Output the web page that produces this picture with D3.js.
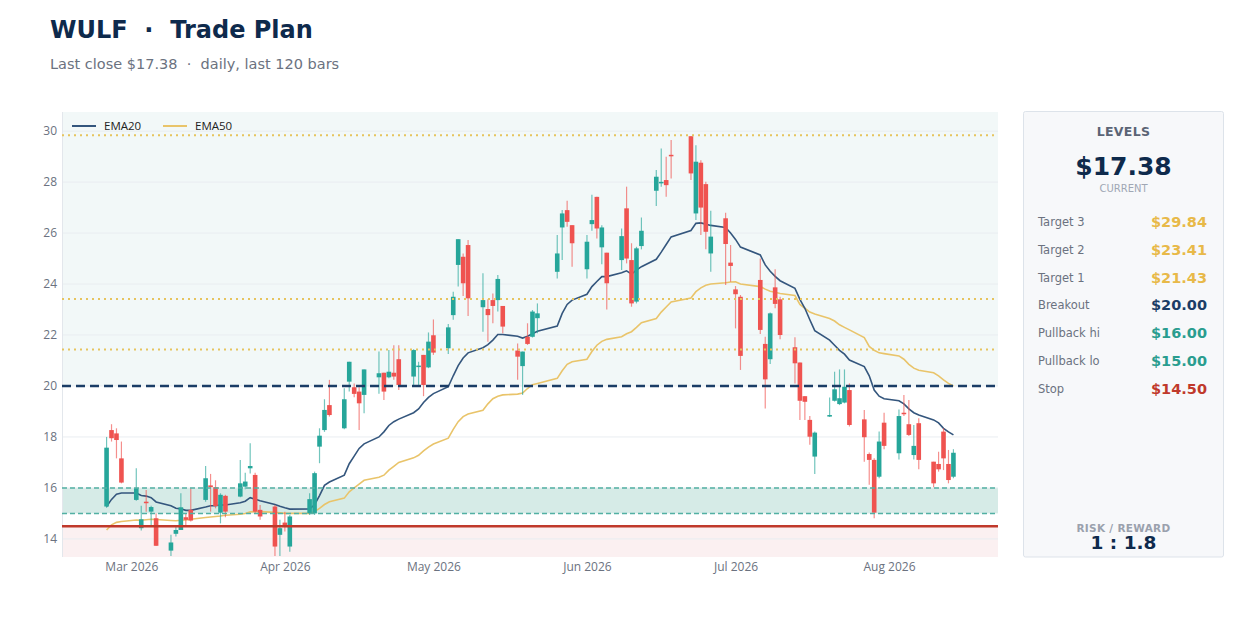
<!DOCTYPE html>
<html><head><meta charset="utf-8">
<script src="https://cdn.jsdelivr.net/npm/d3@7"></script>
<style>body{margin:0;background:#fff;}svg{display:block;}</style>
</head><body>
<svg id="c" width="1248" height="619"></svg>
<script>
// ---- data ----
const dates = [
"2026-02-24","2026-02-25","2026-02-26","2026-02-27",
"2026-03-02","2026-03-03","2026-03-04","2026-03-05","2026-03-06",
"2026-03-09","2026-03-10","2026-03-11","2026-03-12","2026-03-13",
"2026-03-16","2026-03-17","2026-03-18","2026-03-19","2026-03-20",
"2026-03-23","2026-03-24","2026-03-25","2026-03-26","2026-03-27",
"2026-03-30","2026-03-31","2026-04-01","2026-04-02",
"2026-04-06","2026-04-07","2026-04-08","2026-04-09","2026-04-10",
"2026-04-13","2026-04-14","2026-04-15","2026-04-16","2026-04-17",
"2026-04-20","2026-04-21","2026-04-22","2026-04-23","2026-04-24",
"2026-04-27","2026-04-28","2026-04-29","2026-04-30","2026-05-01",
"2026-05-04","2026-05-05","2026-05-06","2026-05-07","2026-05-08",
"2026-05-11","2026-05-12","2026-05-13","2026-05-14","2026-05-15",
"2026-05-18","2026-05-19","2026-05-20","2026-05-21","2026-05-22",
"2026-05-26","2026-05-27","2026-05-28","2026-05-29",
"2026-06-01","2026-06-02","2026-06-03","2026-06-04","2026-06-05",
"2026-06-08","2026-06-09","2026-06-10","2026-06-11","2026-06-12",
"2026-06-15","2026-06-16","2026-06-17","2026-06-18",
"2026-06-22","2026-06-23","2026-06-24","2026-06-25","2026-06-26",
"2026-06-29","2026-06-30","2026-07-01","2026-07-02",
"2026-07-06","2026-07-07","2026-07-08","2026-07-09","2026-07-10",
"2026-07-13","2026-07-14","2026-07-15","2026-07-16","2026-07-17",
"2026-07-20","2026-07-21","2026-07-22","2026-07-23","2026-07-24",
"2026-07-27","2026-07-28","2026-07-29","2026-07-30","2026-07-31",
"2026-08-03","2026-08-04","2026-08-05","2026-08-06","2026-08-07",
"2026-08-10","2026-08-11","2026-08-12","2026-08-13","2026-08-14"];

const opens = [
15.27,18.27,18.14,17.16,
15.53,14.42,15.46,15.07,14.81,
13.54,14.20,14.35,14.85,15.14,
15.53,16.10,16.03,15.03,15.69,
15.66,16.05,16.77,16.51,15.14,
15.27,14.16,14.64,13.70,
15.00,15.00,17.62,18.27,19.25,
18.34,20.17,19.95,19.78,19.65,
20.34,20.52,20.34,20.52,21.05,
20.37,20.76,21.22,20.73,21.99,
21.48,22.78,24.75,25.07,25.53,
23.09,23.02,23.37,23.37,23.14,
21.39,20.78,21.93,21.93,22.66,
24.48,26.22,26.90,26.31,
24.58,26.35,27.42,25.44,25.23,
24.94,26.97,24.94,23.31,25.49,
27.66,27.95,28.08,29.07,
29.80,26.77,28.76,27.92,25.20,
26.58,24.84,23.79,23.50,
24.16,21.65,21.05,23.87,23.40,
21.52,20.92,19.60,18.67,17.23,
18.80,19.42,19.29,19.35,19.84,
18.69,17.33,17.10,16.44,18.56,
17.36,18.95,18.50,17.29,18.54,
17.03,16.94,18.21,16.94,16.44];

const highs = [
18.00,18.50,18.34,17.82,
16.77,15.30,15.92,15.30,15.00,
14.16,14.55,15.79,15.00,15.99,
16.86,16.55,16.30,15.79,15.73,
17.10,16.60,17.75,16.60,15.33,
15.33,14.75,15.07,14.94,
15.79,16.64,18.34,19.48,20.24,
19.91,20.95,20.10,19.95,20.65,
21.35,20.52,21.41,21.60,21.60,
21.44,20.95,21.22,22.10,22.61,
22.43,23.70,25.76,25.20,25.73,
24.42,23.40,23.63,24.35,23.14,
21.67,21.35,22.46,22.98,23.24,
25.92,26.90,27.27,26.31,
25.92,27.50,27.42,26.31,25.23,
26.18,27.82,25.60,25.46,26.61,
28.47,29.32,28.99,29.65,
29.80,29.45,28.86,28.01,26.88,
26.80,25.53,23.92,23.57,
25.00,21.93,22.88,24.58,23.50,
21.91,20.92,19.60,18.82,18.21,
19.55,20.56,20.65,20.65,20.10,
19.06,17.39,17.16,18.21,18.95,
19.08,19.65,19.45,18.47,18.73,
17.03,17.42,18.34,17.49,17.52];

const lows = [
15.22,17.82,17.16,16.18,
15.50,14.33,15.07,14.50,13.72,
13.33,14.09,14.35,14.48,14.68,
15.46,15.07,15.20,14.61,14.85,
15.63,15.95,16.57,15.00,14.75,
13.33,13.33,14.29,13.50,
14.94,14.94,16.97,18.20,18.80,
18.30,19.78,19.56,18.27,18.93,
19.70,19.45,20.30,20.24,19.84,
20.04,20.04,19.60,20.70,21.22,
21.25,22.60,23.90,23.53,22.75,
22.13,21.74,22.46,22.92,22.07,
20.24,19.65,21.61,21.90,22.07,
24.22,24.94,26.25,24.68,
24.22,26.09,25.79,24.78,23.00,
24.55,24.81,23.11,23.24,25.36,
27.06,27.82,27.42,28.14,
28.08,26.51,25.92,25.36,24.48,
23.96,24.09,22.26,20.63,
22.04,19.12,20.86,23.05,21.83,
20.10,18.67,18.67,17.69,16.55,
18.78,19.39,19.25,19.32,18.41,
17.03,16.12,14.81,16.38,17.52,
17.12,18.82,18.04,17.12,16.73,
16.03,16.64,16.70,16.18,16.38];

const closes = [
17.58,17.95,17.88,16.21,
15.99,14.77,15.40,15.25,13.73,
13.86,14.35,15.24,14.75,14.72,
16.38,16.03,15.29,15.73,15.07,
16.18,16.25,16.86,15.07,14.88,
13.70,14.42,14.48,14.88,
15.56,16.58,18.05,19.06,18.86,
19.48,20.95,19.69,19.32,20.65,
20.50,19.78,20.56,20.37,20.04,
21.41,20.80,20.04,21.74,21.31,
22.30,23.50,25.76,24.03,23.44,
23.37,22.78,23.14,24.20,22.33,
21.15,21.35,21.65,22.92,22.85,
25.20,26.77,26.44,25.60,
25.66,26.51,26.18,26.22,24.03,
25.88,25.00,23.24,25.40,26.09,
28.21,28.01,27.88,29.02,
28.34,28.80,27.00,26.05,25.86,
25.57,24.71,23.60,21.18,
22.20,20.26,22.85,23.22,22.00,
20.89,19.42,19.38,18.01,18.17,
18.86,19.87,19.52,19.97,18.47,
17.99,17.10,15.03,17.82,17.65,
18.82,18.90,18.08,17.65,17.10,
16.18,16.73,17.16,16.31,17.38];

const ema20 = [
15.27,15.55,15.75,15.80,
15.80,15.70,15.68,15.62,15.45,
15.30,15.20,15.18,15.12,15.12,
15.25,15.30,15.30,15.33,15.33,
15.42,15.48,15.62,15.56,15.50,
15.35,15.28,15.22,15.17,
15.18,15.34,15.70,16.10,16.23,
16.50,16.95,17.25,17.55,17.73,
18.00,18.20,18.45,18.60,18.70,
18.95,19.10,19.35,19.55,19.70,
19.97,20.40,20.80,21.10,21.30,
21.50,21.62,21.80,22.02,22.02,
21.95,21.88,21.95,22.05,22.15,
22.35,22.85,23.20,23.37,
23.60,23.90,24.10,24.29,24.29,
24.44,24.52,24.39,24.55,24.68,
24.97,25.25,25.55,25.85,
26.10,26.38,26.40,26.35,26.30,
26.22,26.00,25.75,25.45,
25.14,24.75,24.50,24.30,24.13,
23.83,23.40,23.05,22.60,22.17,
21.80,21.60,21.40,21.25,21.02,
20.76,20.40,19.84,19.60,19.50,
19.42,19.30,19.10,18.95,18.86,
18.67,18.55,18.34,18.20,18.08];

const ema50 = [
14.35,14.55,14.65,14.68,
14.74,14.73,14.75,14.77,14.76,
14.72,14.71,14.73,14.74,14.77,
14.84,14.86,14.88,14.90,14.93,
14.97,15.00,15.06,15.07,15.07,
15.04,15.02,15.00,15.00,
15.00,15.07,15.20,15.35,15.46,
15.60,15.85,16.00,16.15,16.30,
16.42,16.50,16.70,16.85,17.00,
17.18,17.28,17.45,17.60,17.72,
17.95,18.30,18.60,18.80,18.90,
19.05,19.30,19.50,19.60,19.65,
19.68,19.72,19.90,20.05,20.10,
20.30,20.60,20.85,20.95,
21.05,21.35,21.60,21.75,21.83,
21.93,22.05,22.13,22.30,22.48,
22.65,22.90,23.10,23.30,
23.45,23.70,23.85,23.95,24.00,
24.05,24.08,24.09,24.00,
23.90,23.80,23.72,23.68,23.63,
23.55,23.20,23.05,22.90,22.82,
22.65,22.55,22.40,22.30,22.20,
21.90,21.55,21.40,21.30,21.27,
21.18,21.05,20.85,20.70,20.62,
20.52,20.40,20.24,20.10,20.00];

const levelNames  = ["Target 3","Target 2","Target 1","Breakout","Pullback hi","Pullback lo","Stop"];
const levelValues = [29.84, 23.41, 21.43, 20.00, 16.00, 15.00, 14.50];
const levelKinds  = ["target","target","target","breakout","pullback","pullback","stop"];
const yTickValues = [14,16,18,20,22,24,26,28,30];
const seriesNames = ["EMA20","EMA50"];
const ticker = "WULF";
const lastClose = 17.38;
const riskReward = "1 : 1.8";
const barCount = 120;

// ---- styles ----
const C = {
  up:"#26a69a", down:"#ef5350", ema20:"#34567d", ema50:"#e9c46a",
  target:"#e8b948", targetLine:"#e6c45e", breakout:"#1b3d66", pullback:"#2a9d8f",
  pullLine:"#52b0a3", stop:"#c0392b", navy:"#0e2a4c", gray:"#6b7280"
};
const L = {left:62, right:998, top:112, bottom:557};

const parse = d3.timeParse("%Y-%m-%d");
const dts = dates.map(parse);
const bars = dts.map((d,i)=>({d, o:opens[i], h:highs[i], l:lows[i], c:closes[i], e20:ema20[i], e50:ema50[i]}));

const svg = d3.select("#c");
const x = d3.scaleTime()
  .domain([d3.timeDay.offset(dts[0],-9), d3.timeDay.offset(dts[dts.length-1],9)])
  .range([L.left, L.right]);
const y = d3.scaleLinear().domain([13.29, 30.75]).range([L.bottom, L.top]);

// title
svg.append("text").attr("x",50).attr("y",38)
  .attr("font-family","DejaVu Sans").attr("font-weight","bold").attr("font-size",24)
  .attr("fill",C.navy).attr("xml:space","preserve").text(ticker + "  \u00b7  Trade Plan");
svg.append("text").attr("x",50).attr("y",69)
  .attr("font-family","DejaVu Sans").attr("font-size",14.5)
  .attr("fill",C.gray).attr("xml:space","preserve")
  .text("Last close $" + lastClose.toFixed(2) + "  \u00b7  daily, last " + barCount + " bars");

// plot background zones
const g = svg.append("g");
g.append("rect").attr("x",L.left).attr("y",L.top).attr("width",L.right-L.left)
  .attr("height",L.bottom-L.top).attr("fill","#ffffff");
function band(v0,v1,fill){
  g.append("rect").attr("x",L.left).attr("width",L.right-L.left)
   .attr("y",y(v1)).attr("height",y(v0)-y(v1)).attr("fill",fill);
}
band(levelValues[3], y.domain()[1], "#f2f8f8");
band(levelValues[5], levelValues[4], "#d6ebe7");
band(y.domain()[0], levelValues[6], "#fbf0f1");

// gridlines
g.selectAll(".grid").data(yTickValues).join("line")
  .attr("x1",L.left).attr("x2",L.right).attr("y1",d=>y(d)).attr("y2",d=>y(d))
  .attr("stroke","#e9edf1").attr("stroke-width",1);
g.append("line").attr("x1",L.left+0.5).attr("x2",L.left+0.5).attr("y1",L.top).attr("y2",L.bottom)
  .attr("stroke","#e3e7ec");

// axes
const yAxis = d3.axisLeft(y).tickValues(yTickValues).tickSize(0).tickPadding(5);
const ya = svg.append("g").attr("transform",`translate(${L.left},0)`).call(yAxis);
ya.select(".domain").remove();
ya.selectAll("text").attr("font-family","Open Sans").attr("font-size",12).attr("fill",C.gray);

const xAxis = d3.axisBottom(x).ticks(d3.timeMonth.every(1)).tickFormat(d3.timeFormat("%b %Y")).tickSize(0).tickPadding(5.5);
const xa = svg.append("g").attr("transform",`translate(0,${L.bottom})`).call(xAxis);
xa.select(".domain").remove();
xa.selectAll("text").attr("font-family","Open Sans").attr("font-size",12).attr("fill",C.gray);

// EMA lines
const line20 = d3.line().x(d=>x(d.d)).y(d=>y(d.e20));
const line50 = d3.line().x(d=>x(d.d)).y(d=>y(d.e50));
g.append("path").datum(bars).attr("d",line50).attr("fill","none").attr("stroke",C.ema50).attr("stroke-width",1.6);
g.append("path").datum(bars).attr("d",line20).attr("fill","none").attr("stroke",C.ema20).attr("stroke-width",1.6);

// candles
const cg = g.append("g");
cg.selectAll(".wick").data(bars).join("line")
  .attr("x1",d=>x(d.d)).attr("x2",d=>x(d.d))
  .attr("y1",d=>y(d.h)).attr("y2",d=>y(d.l))
  .attr("stroke",d=>d.c>=d.o?C.up:C.down).attr("stroke-opacity",0.65).attr("stroke-width",1.2);
cg.selectAll(".body").data(bars).join("rect")
  .attr("x",d=>x(d.d)-2.3).attr("width",4.6)
  .attr("y",d=>y(Math.max(d.o,d.c)))
  .attr("height",d=>Math.max(1.5, Math.abs(y(d.o)-y(d.c))))
  .attr("fill",d=>d.c>=d.o?C.up:C.down);

// level lines
const lineStyle = {
  target:{stroke:C.targetLine, w:2, dash:"2,4"},
  breakout:{stroke:C.breakout, w:2.4, dash:"9,5"},
  pullback:{stroke:C.pullLine, w:1.5, dash:"5,3"},
  stop:{stroke:C.stop, w:2.5, dash:null}
};
levelValues.forEach((v,i)=>{
  const s = lineStyle[levelKinds[i]];
  const ln = g.append("line").attr("x1",L.left).attr("x2",L.right).attr("y1",y(v)).attr("y2",y(v))
    .attr("stroke",s.stroke).attr("stroke-width",s.w);
  if (s.dash) ln.attr("stroke-dasharray",s.dash);
});

// legend
const lg = svg.append("g");
seriesNames.forEach((n,i)=>{
  const x0 = 72 + i*91;
  lg.append("line").attr("x1",x0).attr("x2",x0+24).attr("y1",126).attr("y2",126)
    .attr("stroke",i===0?C.ema20:C.ema50).attr("stroke-width",2);
  lg.append("text").attr("x",x0+32).attr("y",130).attr("font-family","Open Sans").attr("font-size",11.5)
    .attr("fill","#222").text(n);
});

// side panel
const px = 1023.5, pw = 200, pcx = px + pw/2;
const p = svg.append("g");
p.append("rect").attr("x",px).attr("y",111.5).attr("width",pw).attr("height",445.5).attr("rx",2)
  .attr("fill","#f7f8fa").attr("stroke","#dde3ea");
p.append("text").attr("x",pcx).attr("y",136).attr("text-anchor","middle")
  .attr("font-family","DejaVu Sans").attr("font-weight","bold").attr("font-size",12.5)
  .attr("letter-spacing",0.3).attr("fill","#5b6475").text("LEVELS");
p.append("text").attr("x",pcx).attr("y",175).attr("text-anchor","middle")
  .attr("font-family","DejaVu Sans").attr("font-weight","bold").attr("font-size",25)
  .attr("fill",C.navy).text("$" + lastClose.toFixed(2));
p.append("text").attr("x",pcx).attr("y",192).attr("text-anchor","middle")
  .attr("font-family","DejaVu Sans").attr("font-size",10)
  .attr("fill","#a0a7b4").text("CURRENT");
const valColor = {target:C.target, breakout:C.breakout, pullback:C.pullback, stop:C.stop};
levelNames.forEach((n,i)=>{
  const yy = 226 + i*27.8;
  p.append("text").attr("x",1038).attr("y",yy).attr("font-family","DejaVu Sans").attr("font-size",11.5)
    .attr("fill",C.gray).text(n);
  p.append("text").attr("x",1207).attr("y",yy+1).attr("text-anchor","end")
    .attr("font-family","DejaVu Sans").attr("font-weight","bold").attr("font-size",14.5)
    .attr("fill",valColor[levelKinds[i]]).text("$" + levelValues[i].toFixed(2));
});
p.append("text").attr("x",pcx).attr("y",532).attr("text-anchor","middle")
  .attr("font-family","DejaVu Sans").attr("font-weight","bold").attr("font-size",10.5)
  .attr("letter-spacing",0.3).attr("fill","#9aa1ad").text("RISK / REWARD");
p.append("text").attr("x",pcx).attr("y",549).attr("text-anchor","middle")
  .attr("font-family","DejaVu Sans").attr("font-weight","bold").attr("font-size",18.5)
  .attr("fill",C.navy).text(riskReward);
</script>
</body></html>
